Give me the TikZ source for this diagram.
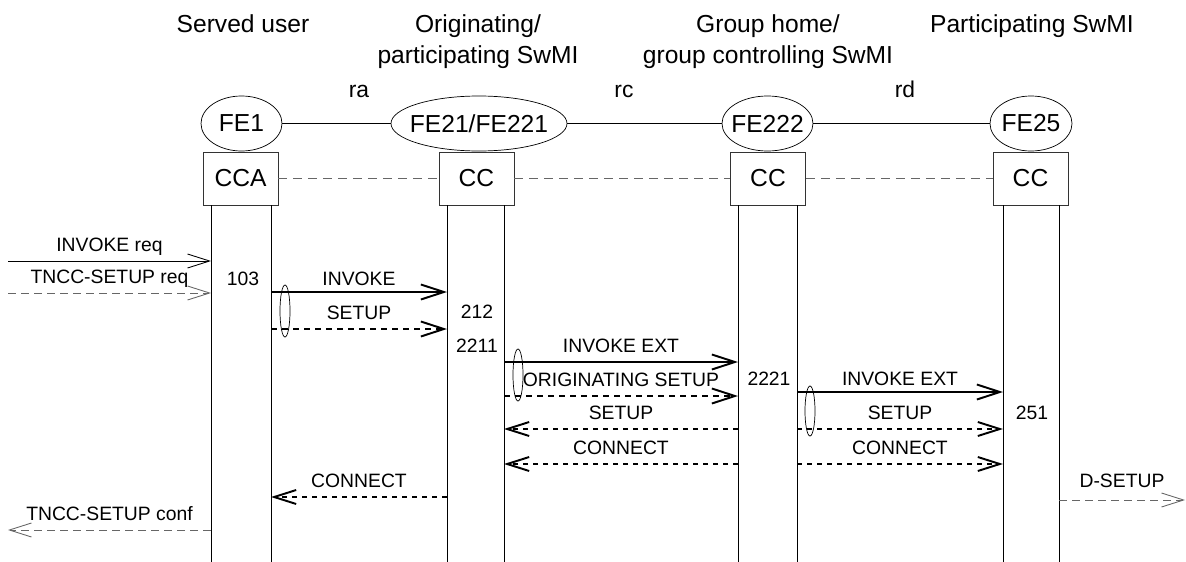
\documentclass[tikz,border=0pt]{standalone}
\usepackage{fontspec}
\setmainfont{Liberation Sans}
\usetikzlibrary{arrows.meta,shapes.geometric}

\tikzset{
  fe/.style={draw, ellipse, inner xsep=-4pt, inner ysep=0pt, minimum height=11mm, font=\fontsize{14}{17}\selectfont},
  ccbox/.style={draw=black!80, minimum width=15mm, minimum height=10.6mm, font=\fontsize{14}{17}\selectfont},
  hdr/.style={align=center, anchor=base, font=\fontsize{14}{17.6}\selectfont},
  refpt/.style={anchor=base, font=\fontsize{13}{15}\selectfont},
  num/.style={anchor=base, font=\fontsize{11}{13}\selectfont},
  lbl/.style={midway, anchor=base, yshift=2mm, inner sep=0pt, font=\fontsize{11}{13}\selectfont},
  life/.style={line width=0.5pt},
  boxlink/.style={draw=black!60, line width=0.5pt, dash pattern=on 1.8mm off 1.2mm},
  inv/.style={line width=0.5pt, -{Straight Barb[length=4.4mm,width=2.8mm]}},
  prim/.style={inv, draw=black!60, dash pattern=on 1.6mm off 1mm},
  strong/.style={line width=1.1pt, -{Straight Barb[length=4.6mm,width=3mm]}},
  strongdot/.style={strong, dash pattern=on 1.2mm off 1mm},
  dotmsg/.style={line width=0.9pt, dash pattern=on 1mm off 1mm, -{Straight Barb[length=4.4mm,width=2.8mm,line width=1.1pt]}}
}

\begin{document}
\begin{tikzpicture}[x=0.2mm, y=-0.2mm]
\useasboundingbox (0,0) rectangle (1186,562);

% Column headings
\node[hdr] (hdUser) at (243,32) {Served user};
\node[hdr] (hdOrig) at (478,63) {Originating/\\participating SwMI};
\node[hdr] (hdHome) at (768,63) {Group home/\\group controlling SwMI};
\node[hdr] (hdPart) at (1032,32) {Participating SwMI};

% Reference points
\node[refpt] (ra) at (359,97) {ra};
\node[refpt] (rc) at (624,97) {rc};
\node[refpt] (rd) at (905,97) {rd};

% Functional entities
\node[fe, minimum width=16.2mm] (fe1) at (241.5,123.5) {FE1};
\node[fe, minimum width=35.2mm] (fe21) at (479,123.5) {FE21/FE221};
\node[fe, minimum width=18.2mm] (fe222) at (767.5,123.5) {FE222};
\node[fe, minimum width=16.4mm] (fe25) at (1031,123.5) {FE25};
\draw[life] (fe1) -- (fe21);
\draw[life] (fe21) -- (fe222);
\draw[life] (fe222) -- (fe25);

% Call control boxes
\node[ccbox] (cca) at (240.5,178.5) {CCA};
\node[ccbox] (cc21) at (476.5,178.5) {CC};
\node[ccbox] (cc222) at (768,178.5) {CC};
\node[ccbox] (cc25) at (1030.5,178.5) {CC};
\draw[boxlink] (cca) -- (cc21);
\draw[boxlink] (cc21) -- (cc222);
\draw[boxlink] (cc222) -- (cc25);

% Lifelines
\coordinate (uL) at (211,562); \coordinate (uR) at (271,562);
\coordinate (oL) at (447,562); \coordinate (oR) at (504,562);
\coordinate (hL) at (738,562); \coordinate (hR) at (797,562);
\coordinate (pL) at (1003,562); \coordinate (pR) at (1059,562);
\coordinate (lft) at (8,0); \coordinate (rgt) at (1185,0);
\draw[life] (cca.south -| uL) -- (uL);
\draw[life] (cca.south -| uR) -- (uR);
\draw[life] (cc21.south -| oL) -- (oL);
\draw[life] (cc21.south -| oR) -- (oR);
\draw[life] (cc222.south -| hL) -- (hL);
\draw[life] (cc222.south -| hR) -- (hR);
\draw[life] (cc25.south -| pL) -- (pL);
\draw[life] (cc25.south -| pR) -- (pR);

% Served user side
\draw[inv] (lft |- 0,261) -- (uL |- 0,261) node[lbl] {INVOKE req};
\draw[prim] (lft |- 0,293) -- (uL |- 0,293) node[lbl] {TNCC-SETUP req};
\node[num] (n103) at (243,285) {103};

% Originating SwMI
\draw[strong] (uR |- 0,292) -- (oL |- 0,292) node[lbl, yshift=-0.6mm] {INVOKE};
\draw[strongdot] (uR |- 0,329) -- (oL |- 0,329) node[lbl] {SETUP};
\draw (285,311) ellipse [x radius=1mm, y radius=5.2mm];
\node[num] (n212) at (477,318) {212};
\node[num] (n2211) at (477,352) {2211};

% Group controlling SwMI
\draw[strong] (oR |- 0,362) -- (hL |- 0,362) node[lbl] {INVOKE EXT};
\draw[strongdot] (oR |- 0,396) -- (hL |- 0,396) node[lbl] {ORIGINATING SETUP};
\draw (518,375) ellipse [x radius=1mm, y radius=5.2mm];
\node[num] (n2221) at (769,385) {2221};

% Participating SwMI
\draw[strong] (hR |- 0,392) -- (pL |- 0,392) node[lbl, yshift=-0.6mm] {INVOKE EXT};
\draw (810,411) ellipse [x radius=1mm, y radius=5mm];
\node[num] (n251) at (1032,419) {251};

% Responses
\draw[dotmsg] (hL |- 0,429) -- (oR |- 0,429) node[lbl] {SETUP};
\draw[dotmsg] (hR |- 0,429) -- (pL |- 0,429) node[lbl] {SETUP};
\draw[dotmsg] (hL |- 0,464) -- (oR |- 0,464) node[lbl] {CONNECT};
\draw[dotmsg] (hR |- 0,464) -- (pL |- 0,464) node[lbl] {CONNECT};
\draw[dotmsg] (oL |- 0,497) -- (uR |- 0,497) node[lbl] {CONNECT};
\draw[prim] (pR |- 0,500) -- (rgt |- 0,500) node[lbl, yshift=0.6mm] {D-SETUP};
\draw[prim] (uL |- 0,530) -- (lft |- 0,530) node[lbl] {TNCC-SETUP conf};
\end{tikzpicture}
\end{document}
